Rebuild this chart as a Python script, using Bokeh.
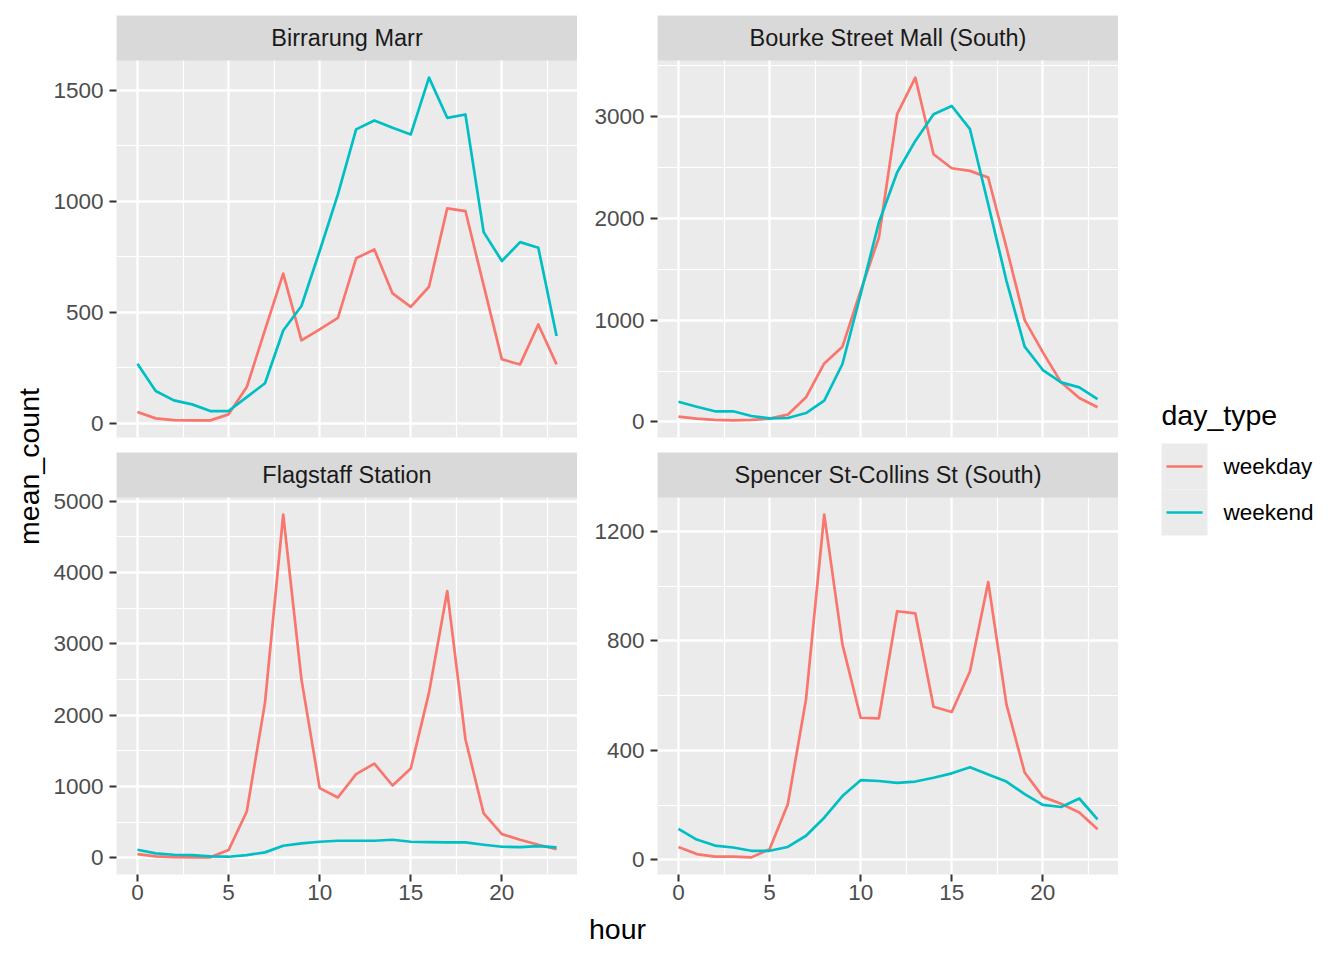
# Pedestrian counts by hour, faceted by sensor (ggplot-like look in Bokeh)

import math

from bokeh.core.properties import value
from bokeh.embed import file_html
from bokeh.layouts import column, row
from bokeh.models import FixedTicker, Range1d, Spacer
from bokeh.plotting import figure
from bokeh.resources import INLINE

hour = list(range(24))

birrarung_weekday = [50, 21, 13, 12, 12, 39, 162, 420, 673, 372, 422, 474, 742, 782, 584, 523, 614, 967, 955, 620, 287, 264, 444, 264]
birrarung_weekend = [267, 144, 102, 84, 54, 54, 117, 179, 417, 527, 775, 1030, 1323, 1363, 1330, 1300, 1556, 1375, 1390, 860, 730, 815, 790, 392]
bourke_weekday = [52, 33, 20, 16, 20, 33, 72, 242, 575, 739, 1288, 1810, 3020, 3379, 2627, 2490, 2464, 2399, 1712, 1000, 683, 389, 235, 144]
bourke_weekend = [199, 150, 105, 105, 59, 36, 39, 88, 209, 569, 1255, 1958, 2448, 2758, 3020, 3101, 2873, 2137, 1386, 739, 510, 389, 340, 225]
flagstaff_weekday = [51, 19, 9, 5, 5, 107, 649, 2176, 4813, 2502, 976, 845, 1172, 1321, 1013, 1251, 2316, 3739, 1662, 621, 331, 252, 182, 121]
flagstaff_weekend = [112, 61, 42, 37, 19, 14, 37, 75, 168, 201, 224, 238, 238, 238, 252, 224, 219, 215, 215, 182, 154, 149, 163, 145]
spencer_weekday = [47, 21, 12, 12, 9, 39, 203, 586, 1261, 787, 519, 517, 908, 900, 559, 540, 689, 1015, 568, 319, 230, 205, 173, 112]
spencer_weekend = [113, 74, 52, 45, 33, 33, 47, 88, 154, 233, 291, 288, 281, 286, 300, 316, 338, 312, 286, 240, 201, 193, 224, 148]

sensors = ["Birrarung Marr", "Bourke Street Mall (South)", "Flagstaff Station", "Spencer St-Collins St (South)"]
day_types = ["weekday", "weekend"]

x_ticks = [0, 5, 10, 15, 20]
x_minor = [-2.5, 2.5, 7.5, 12.5, 17.5, 22.5]
y_ticks_birrarung = [0, 500, 1000, 1500]
y_ticks_bourke = [0, 1000, 2000, 3000]
y_ticks_flagstaff = [0, 1000, 2000, 3000, 4000, 5000]
y_ticks_spencer = [0, 400, 800, 1200]

RED = "#F8766D"
TEAL = "#00BFC4"
FONT = "Liberation Sans"
SMALL = "22.5px"
STRIP = "23.5px"
BIG = "28.5px"

PLOT_H = 377   # data area height
STRIP_H = 45   # grey facet strip above it


def padded(lo, hi):
    pad = (hi - lo) * 0.05
    return lo - pad, hi + pad


def minors(ticks):
    step = ticks[1] - ticks[0]
    return [t - step / 2 for t in ticks] + [ticks[-1] + step / 2]


def blank(width, height, **kw):
    p = figure(width=width, height=height, output_backend="svg", toolbar_location=None,
               x_axis_location=None, y_axis_location=None, min_border=0, **kw)
    p.outline_line_color = None
    p.grid.visible = False
    return p


def panel(title, weekday, weekend, yticks, left, frame_w, bottom):
    x0, x1 = padded(min(hour), max(hour))
    y0, y1 = padded(min(weekday + weekend), max(weekday + weekend))
    # the frame also holds the strip, so stretch the range above the data
    y_top = y1 + (y1 - y0) * STRIP_H / PLOT_H
    border_b = 36 if bottom else 15
    p = figure(width=left + frame_w, height=PLOT_H + STRIP_H + border_b,
               output_backend="svg", toolbar_location=None,
               x_range=Range1d(x0, x1), y_range=Range1d(y0, y_top),
               min_border=0, min_border_left=left, min_border_bottom=border_b,
               background_fill_color="#EBEBEB")
    p.outline_line_color = None
    p.line(hour, weekday, line_color=RED, line_width=2.7, line_join="round")
    p.line(hour, weekend, line_color=TEAL, line_width=2.7, line_join="round")

    p.quad(left=[x0], right=[x1], bottom=[y1], top=[y_top], fill_color="#D9D9D9", line_color=None)
    p.text([(x0 + x1) / 2], [(y1 + y_top) / 2], text=[title], text_align="center",
           text_baseline="middle", text_font=value(FONT), text_font_size=STRIP,
           text_color="#1A1A1A")

    p.xaxis.ticker = FixedTicker(ticks=x_ticks, minor_ticks=x_minor)
    p.yaxis.ticker = FixedTicker(ticks=yticks, minor_ticks=minors(yticks))
    for ax in [p.xaxis[0], p.yaxis[0]]:
        ax.axis_line_color = None
        ax.minor_tick_line_color = None
        ax.major_tick_in = 0
        ax.major_tick_out = 7
        ax.major_tick_line_width = 2
        ax.major_tick_line_color = "#333333"
        ax.major_label_text_font = FONT
        ax.major_label_text_font_size = SMALL
        ax.major_label_text_color = "#4D4D4D"
    p.yaxis.major_label_standoff = 6
    p.xaxis.major_label_standoff = 3
    if not bottom:
        p.xaxis.visible = False

    p.grid.grid_line_color = "white"
    p.grid.grid_line_width = 2.3
    p.grid.minor_grid_line_color = "white"
    p.grid.minor_grid_line_width = 1.2
    return p


LEFT_A, LEFT_B, FRAME_W = 68, 80, 461

p1 = panel(sensors[0], birrarung_weekday, birrarung_weekend, y_ticks_birrarung, LEFT_A, FRAME_W, False)
p2 = panel(sensors[1], bourke_weekday, bourke_weekend, y_ticks_bourke, LEFT_B, FRAME_W, False)
p3 = panel(sensors[2], flagstaff_weekday, flagstaff_weekend, y_ticks_flagstaff, LEFT_A, FRAME_W, True)
p4 = panel(sensors[3], spencer_weekday, spencer_weekend, y_ticks_spencer, LEFT_B, FRAME_W, True)

center_w = 2 * FRAME_W + LEFT_A + LEFT_B
HOUR_H = 40
hour_fig = blank(center_w, HOUR_H, x_range=(0, 1), y_range=Range1d(HOUR_H, 0), min_border_left=LEFT_A)
hour_fig.text([0.5], [18], text=["hour"], text_align="center", text_baseline="middle",
              text_font=value(FONT), text_font_size=BIG, text_color="black")

TOP = 15
TOTAL_H = TOP + (PLOT_H + STRIP_H + 15) + (PLOT_H + STRIP_H + 36) + HOUR_H
YLAB_W = 48

ylab = blank(YLAB_W, TOTAL_H, x_range=(0, YLAB_W), y_range=Range1d(TOTAL_H, 0))
ylab.text([28], [466], text=["mean_count"], angle=math.pi / 2, text_align="center",
          text_baseline="middle", text_font=value(FONT), text_font_size=BIG, text_color="black")

leg_w = 1336 - YLAB_W - center_w
leg = blank(leg_w, TOTAL_H, x_range=(0, leg_w), y_range=Range1d(TOTAL_H, 0))
leg.text([43], [414], text=["day_type"], text_align="left", text_baseline="middle",
         text_font=value(FONT), text_font_size=BIG, text_color="black")
key_top = [443, 489]
leg.quad(left=[43, 43], right=[89, 89], top=key_top, bottom=[t + 46 for t in key_top],
         fill_color="#EBEBEB", line_color=None)
leg.segment(x0=[48, 48], x1=[84, 84], y0=[t + 23 for t in key_top], y1=[t + 23 for t in key_top],
            line_color=[RED, TEAL], line_width=2.7)
leg.text([105, 105], [t + 23 for t in key_top], text=day_types, text_align="left",
         text_baseline="middle", text_font=value(FONT), text_font_size=SMALL, text_color="black")

layout = row(
    ylab,
    column(Spacer(height=TOP), row(p1, p2), row(p3, p4), hour_fig),
    leg,
)

open("out.html", "w").write(file_html(layout, INLINE))
